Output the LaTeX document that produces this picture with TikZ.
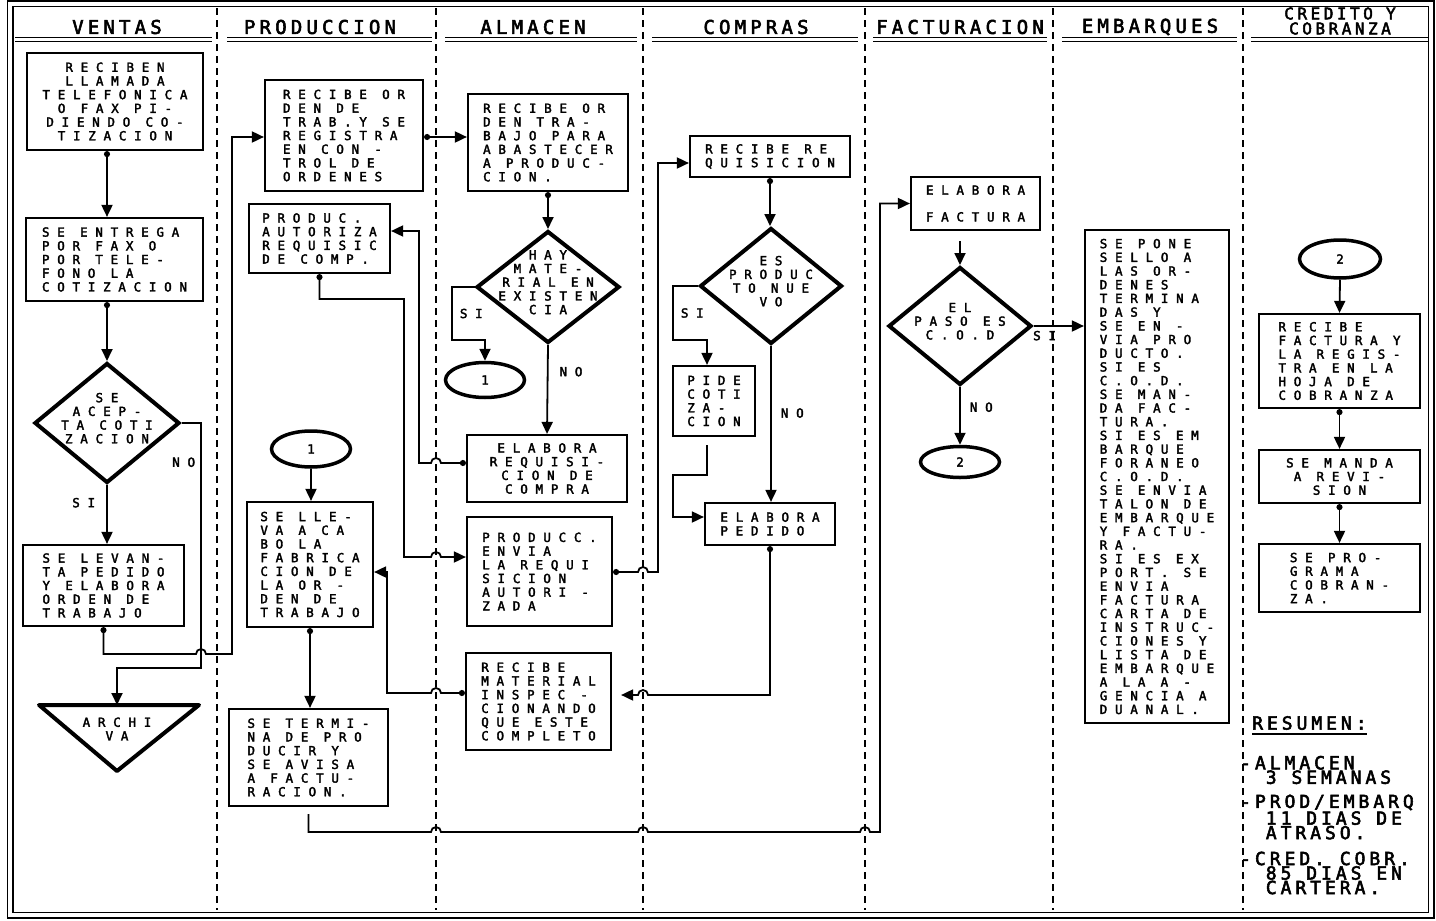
\documentclass[tikz,border=0pt]{standalone}
\usepackage{fontspec}
\usepackage{tikz}
\usetikzlibrary{shapes.geometric, arrows.meta, calc}
\newfontfamily\flowfont[LetterSpace=62, FakeBold=2.6]{DejaVu Sans Mono}
\newfontfamily\headfont[LetterSpace=22, FakeBold=3]{DejaVu Sans Mono}
\newcommand{\boxtext}{\flowfont\fontsize{12.5}{13.7}\selectfont}
\newcommand{\lanetext}{\headfont\fontsize{19}{14}\selectfont}
\newcommand{\sumtext}{\headfont\fontsize{18}{14.5}\selectfont}
\newcommand{\dlines}[1]{\makebox[0pt]{\smash{\begin{tabular}{@{}c@{}}#1\end{tabular}}}}

\begin{document}
\begin{tikzpicture}[x=1pt, y=-1pt,
    box/.style={rectangle, draw, line width=2.2pt, inner sep=0pt, font=\boxtext, align=left},
    cbox/.style={box, align=center},
    decision/.style={diamond, draw, line width=4pt, inner sep=0pt, font=\boxtext},
    connector/.style={ellipse, draw, line width=3.5pt, inner sep=0pt, minimum width=79pt, minimum height=36pt, font=\boxtext},
    lane/.style={font=\lanetext},
    answer/.style={font=\boxtext, inner sep=1pt},
    summary/.style={font=\sumtext, align=left, anchor=west, inner sep=0pt},
    arrow/.style={-{Triangle[length=12pt,width=11pt]}, line width=1.8pt},
    dotarrow/.style={{Circle[length=6pt]}-{Triangle[length=12pt,width=11pt]}, line width=1.8pt},
    divider/.style={line width=2.5pt, dash pattern=on 7pt off 5pt},
    laneline/.style={double, double distance=3pt, line width=1.3pt}
]
\useasboundingbox (0,0) rectangle (1436,921);

% frame, lanes and titles
\draw[line width=1.5pt, double, double distance=4pt] (10,3.5) rectangle (1431,915);
\draw[divider] (217,8) -- (217,910);
\draw[divider] (436,8) -- (436,910);
\draw[divider] (643,8) -- (643,910);
\draw[divider] (865,8) -- (865,910);
\draw[divider] (1053,8) -- (1053,910);
\draw[divider] (1243,8) -- (1243,910);
\draw[laneline] (15,39.5) -- (212,39.5);
\draw[laneline] (227,39.5) -- (432,39.5);
\draw[laneline] (445,39.5) -- (637,39.5);
\draw[laneline] (652,39.5) -- (858,39.5);
\draw[laneline] (873,39.5) -- (1047,39.5);
\draw[laneline] (1062,39.5) -- (1237,39.5);
\draw[laneline] (1251,39.5) -- (1428,39.5);
\node[lane] (ventas) at (117,27) {VENTAS};
\node[lane] (produccion) at (320,27) {PRODUCCION};
\node[lane] (almacen) at (533,27) {ALMACEN};
\node[lane] (compras) at (756,27) {COMPRAS};
\node[lane] (facturacion) at (960,27) {FACTURACION};
\node[lane] (embarques) at (1150,27) {EMBARQUES};
\node[lane, font={\headfont\fontsize{16}{15}\selectfont}, align=center, inner sep=0pt] (credito) at (1340,21) {CREDITO Y\\COBRANZA};

% ventas
\node[cbox, minimum width=176pt, minimum height=97pt] (recibe) at (115,101.5) {RECIBEN\\LLAMADA\\TELEFONICA\\O FAX PI-\\DIENDO CO-\\TIZACION};
\node[box, minimum width=177pt, minimum height=83pt] (entrega) at (114.5,259.5) {SE ENTREGA\\POR FAX O\\POR TELE-\\FONO LA\\COTIZACION};
\node[decision, minimum width=145pt, minimum height=120pt] (acepta) at (107,423) {\dlines{SE\\ACEP-\\TA COTI\\ZACION}};
\node[box, minimum width=161pt, minimum height=81pt] (levanta) at (103.5,585.5) {SE LEVAN-\\TA PEDIDO\\Y ELABORA\\ORDEN DE\\TRABAJO};
\node[font=\boxtext, align=center, inner sep=0pt] (archiva) at (117,729) {ARCHI\\VA};
\draw[line width=4pt, line join=round] (39,705) -- (199,705) -- (117,771) -- cycle;
\coordinate (archtop) at (117,705);

% produccion
\node[box, minimum width=158pt, minimum height=111pt] (orden) at (344,135.5) {RECIBE OR\\DEN DE\\TRAB.Y SE\\REGISTRA\\EN CON -\\TROL DE\\ORDENES};
\node[box, minimum width=141pt, minimum height=69pt] (autoriza) at (319.5,238.5) {PRODUC.\\AUTORIZA\\REQUISIC\\DE COMP.};
\node[connector] (unoprod) at (311,449) {1};
\node[box, minimum width=126pt, minimum height=125pt] (fabrica) at (310,564.5) {SE LLE-\\VA A CA\\BO LA\\FABRICA\\CION DE\\LA OR -\\DEN DE\\TRABAJO};
\node[box, minimum width=159pt, minimum height=97pt] (termina) at (308.5,757.5) {SE TERMI-\\NA DE PRO\\DUCIR Y\\SE AVISA\\A FACTU-\\RACION.};

% almacen
\node[box, minimum width=160pt, minimum height=97pt] (abastece) at (548,142.5) {RECIBE OR\\DEN TRA-\\BAJO PARA\\ABASTECER\\A PRODUC-\\CION.};
\node[decision, minimum width=143pt, minimum height=112pt] (hay) at (548,287) {\dlines{HAY\\MATE-\\RIAL EN\\EXISTEN\\CIA}};
\node[connector, minimum height=35pt] (unoalm) at (485,380) {1};
\node[cbox, minimum width=160pt, minimum height=67pt] (requisicion) at (547,468.5) {ELABORA\\REQUISI-\\CION DE\\COMPRA};
\node[box, minimum width=145pt, minimum height=109pt] (envia) at (539.5,571.5) {PRODUCC.\\ENVIA\\LA REQUI\\SICION\\AUTORI -\\ZADA};
\node[box, minimum width=145pt, minimum height=97pt] (material) at (538.5,701.5) {RECIBE\\MATERIAL\\INSPEC -\\CIONANDO\\QUE ESTE\\COMPLETO};

% compras
\node[box, minimum width=160pt, minimum height=41pt] (recibereq) at (770,156.5) {RECIBE RE\\QUISICION};
\node[decision, minimum width=142pt, minimum height=116pt] (nuevo) at (771,286) {\dlines{ES\\PRODUC\\TO NUE\\VO}};
\node[box, minimum width=82pt, minimum height=70pt] (cotiza) at (714,401) {PIDE\\COTI\\ZA-\\CION};
\node[box, minimum width=130pt, minimum height=42pt] (pedido) at (770,524) {ELABORA\\PEDIDO};

% facturacion
\node[box, minimum width=129pt, minimum height=53pt] (factura) at (975.5,203.5) {ELABORA\\[13pt]FACTURA};
\node[decision, minimum width=143pt, minimum height=118pt] (cod) at (960,326) {\dlines{EL\\PASO ES\\C.O.D}};
\node[connector, minimum height=31pt] (dosfact) at (960,462) {2};

% embarques
\node[box, minimum width=144pt, minimum height=493pt] (embarque) at (1157,476.5) {SE PONE\\SELLO A\\LAS OR-\\DENES\\TERMINA\\DAS Y\\SE EN -\\VIA PRO\\DUCTO.\\SI ES\\C.O.D.\\SE MAN-\\DA FAC-\\TURA.\\SI ES EM\\BARQUE\\FORANEO\\C.O.D.\\SE ENVIA\\TALON DE\\EMBARQUE\\Y FACTU-\\RA.\\SI ES EX\\PORT. SE\\ENVIA\\FACTURA\\CARTA DE\\INSTRUC-\\CIONES Y\\LISTA DE\\EMBARQUE\\A LA A -\\GENCIA A\\DUANAL.};

% credito y cobranza
\node[connector, minimum width=81pt, minimum height=38pt] (doscred) at (1340,259) {2};
\node[box, minimum width=161pt, minimum height=94pt] (registra) at (1339.5,361) {RECIBE\\FACTURA Y\\LA REGIS-\\TRA EN LA\\HOJA DE\\COBRANZA};
\node[cbox, minimum width=161pt, minimum height=53pt] (revision) at (1339.5,476.5) {SE MANDA\\A REVI-\\SION};
\node[box, minimum width=161pt, minimum height=68pt] (cobranza) at (1339.5,578) {SE PRO-\\GRAMA\\COBRAN-\\ZA.};

% resumen
\node[summary] (resumen) at (1252,723) {RESUMEN:};
\draw[line width=1.8pt] ([yshift=-4pt]resumen.south west) -- ([yshift=-4pt]resumen.south east);
\node[summary] (almres) at (1240,770) {-ALMACEN\\\phantom{AA}3 SEMANAS};
\node[summary] (prodres) at (1240,817) {-PROD/EMBARQ\\\phantom{AA}11 DIAS DE\\\phantom{AA}ATRASO.};
\node[summary] (credres) at (1240,873) {-CRED. COBR.\\\phantom{AA}85 DIAS EN\\\phantom{AA}CARTERA.};

% connectors
\draw[dotarrow] (recibe.south -| acepta.north) -- (entrega.north -| acepta.north);
\draw[dotarrow] (entrega.south -| acepta.north) -- (acepta.north);
\draw[arrow] (acepta.south) -- node[answer, pos=0.3, left=10pt] {SI} (levanta.north -| acepta.south);
\draw[arrow] (acepta.east) -- (201,423) -- node[answer, pos=0.16, left=4pt] {NO} (201,668) -| (archtop);
\draw[dotarrow] (levanta.south) |- (196,654) arc[start angle=180, end angle=360, radius=5] -- (232,654) |- (orden.west |- 0,137);
\draw[dotarrow] (orden.east |- 0,137) -- (abastece.west |- 0,137);
\draw[dotarrow] (abastece.south) -- (hay.north);
\draw[arrow] (hay.west) -| node[answer, pos=0.75, right=6pt] {SI} (452,340) -| (unoalm.north);
\draw[arrow] (hay.south) -- node[answer, pos=0.3, right=10pt] {NO} (requisicion.north);
\draw[dotarrow] (requisicion.west |- 0,463) -- (441,463) arc[start angle=0, end angle=-180, radius=5] -- (419,463) |- (autoriza.east |- 0,231);
\draw[dotarrow] (autoriza.south) |- (404,299) -- (404,557) -- (431,557) arc[start angle=180, end angle=360, radius=5] -- (envia.west |- 0,557);
\draw[dotarrow] (material.west |- 0,693) -- (441,693) arc[start angle=0, end angle=-180, radius=5] -- (387,693) |- (fabrica.east |- 0,572);
\draw[arrow] (unoprod.south) -- (fabrica.north -| unoprod.south);
\draw[dotarrow] (fabrica.south) -- (termina.north -| fabrica.south);
\draw[arrow, shorten <=7pt] (termina.south) |- (431,832) arc[start angle=180, end angle=360, radius=5] -- (638,832) arc[start angle=180, end angle=360, radius=5] -- (860,832) arc[start angle=180, end angle=360, radius=5] -- (880,832) |- (factura.west);
\draw[dotarrow] (envia.east |- 0,572) -- (638,572) arc[start angle=180, end angle=360, radius=5] -- (658,572) |- (recibereq.west |- 0,163);
\draw[dotarrow] (recibereq.south) -- (nuevo.north -| recibereq.south);
\draw[arrow] (nuevo.west) -| node[answer, pos=0.75, right=6pt] {SI} (673,340) -| (cotiza.north -| 707,0);
\draw[arrow] (nuevo.south) -- node[answer, pos=0.43, right=8pt] {NO} (pedido.north -| nuevo.south);
\draw[arrow, shorten <=8pt] (cotiza.south -| 707,0) |- (673,475) |- (pedido.west |- 0,517);
\draw[dotarrow, shorten >=9pt] (pedido.south) |- (648,695) arc[start angle=0, end angle=-180, radius=5] -- (material.east |- 0,695);
\draw[arrow, shorten <=10pt] (factura.south -| cod.north) -- (cod.north);
\draw[arrow] (cod.east) -- node[answer, pos=0.22, below=3pt] {SI} (embarque.west |- cod.east);
\draw[arrow] (cod.south) -- node[answer, pos=0.35, right=8pt] {NO} (dosfact.north);
\draw[arrow] (doscred.south) -- (registra.north);
\draw[dotarrow] (registra.south) -- (revision.north);
\draw[dotarrow] (revision.south) -- (cobranza.north);
\end{tikzpicture}
\end{document}
